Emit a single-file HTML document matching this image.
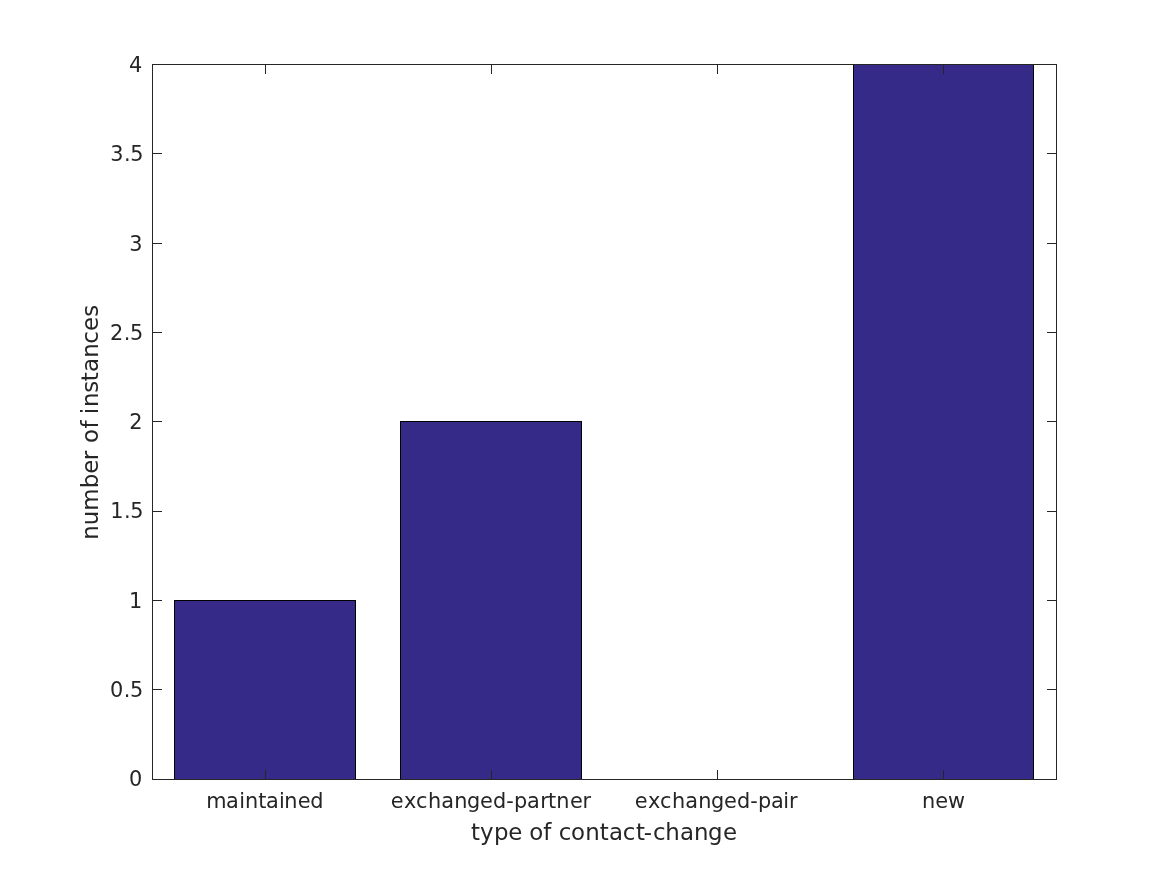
<!DOCTYPE html>
<html lang="en">
<head>
<meta charset="utf-8">
<title>contact-change bar chart</title>
<style>
html,body{margin:0;padding:0;background:#fff;}
body{width:1167px;height:875px;overflow:hidden;position:relative;}
svg{display:block;position:absolute;left:0;top:0;}
text{font-family:"DejaVu Sans","Liberation Sans",sans-serif;fill:#262626;}
.t{font-size:20.83px;}
.l{font-size:22.9px;}
</style>
</head>
<body>
<svg width="1167" height="875" viewBox="0 0 1167 875">
<rect x="0" y="0" width="1167" height="875" fill="#ffffff"/>
<g shape-rendering="crispEdges">
<rect x="174" y="600" width="182" height="180" fill="#000000"/>
<rect x="175" y="601" width="180" height="178" fill="#352a87"/>
<rect x="400" y="421" width="182" height="359" fill="#000000"/>
<rect x="401" y="422" width="180" height="357" fill="#352a87"/>
<rect x="853" y="64" width="181" height="716" fill="#000000"/>
<rect x="854" y="65" width="179" height="714" fill="#352a87"/>
<rect x="152" y="64" width="905" height="1" fill="#262626"/>
<rect x="152" y="779" width="905" height="1" fill="#262626"/>
<rect x="152" y="64" width="1" height="716" fill="#262626"/>
<rect x="1056" y="64" width="1" height="716" fill="#262626"/>
<rect x="265" y="770" width="1" height="9" fill="#262626"/>
<rect x="265" y="65" width="1" height="9" fill="#262626"/>
<rect x="491" y="770" width="1" height="9" fill="#262626"/>
<rect x="491" y="65" width="1" height="9" fill="#262626"/>
<rect x="717" y="770" width="1" height="9" fill="#262626"/>
<rect x="717" y="65" width="1" height="9" fill="#262626"/>
<rect x="943" y="770" width="1" height="9" fill="#262626"/>
<rect x="943" y="65" width="1" height="9" fill="#262626"/>
<rect x="153" y="779" width="9" height="1" fill="#262626"/>
<rect x="1047" y="779" width="9" height="1" fill="#262626"/>
<rect x="153" y="689" width="9" height="1" fill="#262626"/>
<rect x="1047" y="689" width="9" height="1" fill="#262626"/>
<rect x="153" y="600" width="9" height="1" fill="#262626"/>
<rect x="1047" y="600" width="9" height="1" fill="#262626"/>
<rect x="153" y="511" width="9" height="1" fill="#262626"/>
<rect x="1047" y="511" width="9" height="1" fill="#262626"/>
<rect x="153" y="421" width="9" height="1" fill="#262626"/>
<rect x="1047" y="421" width="9" height="1" fill="#262626"/>
<rect x="153" y="332" width="9" height="1" fill="#262626"/>
<rect x="1047" y="332" width="9" height="1" fill="#262626"/>
<rect x="153" y="243" width="9" height="1" fill="#262626"/>
<rect x="1047" y="243" width="9" height="1" fill="#262626"/>
<rect x="153" y="153" width="9" height="1" fill="#262626"/>
<rect x="1047" y="153" width="9" height="1" fill="#262626"/>
<rect x="153" y="64" width="9" height="1" fill="#262626"/>
<rect x="1047" y="64" width="9" height="1" fill="#262626"/>
</g>
<text class="t" x="129.05" y="72">4</text>
<text class="t" x="110.17 123.93 130.15" y="161">3.5</text>
<text class="t" x="129.30" y="251">3</text>
<text class="t" x="110.07 123.83 130.05" y="340">2.5</text>
<text class="t" x="129.15" y="429">2</text>
<text class="t" x="110.17 123.93 130.15" y="518">1.5</text>
<text class="t" x="129.10" y="608">1</text>
<text class="t" x="110.07 123.83 130.05" y="697">0.5</text>
<text class="t" x="129.00" y="786">0</text>
<text class="t" x="206.35 225.88 239.22 245.04 258.29 265.89 279.00 284.13 297.66 310.21" y="808">maintained</text>
<text class="t" x="390.68 403.93 416.00 428.10 441.16 454.17 466.94 479.95 493.03 506.16 514.02 527.05 540.37 547.99 556.16 569.98 582.39" y="808">exchanged-partner</text>
<text class="t" x="634.68 647.93 660.00 672.10 685.16 698.17 710.94 723.95 737.03 750.16 758.02 771.05 783.19 789.07" y="808">exchanged-pair</text>
<text class="t" x="921.97 935.16 947.97" y="808">new</text>
<text class="l" x="470.93 479.98 494.01 508.23 522.59 529.34 543.34 551.87 558.74 571.10 585.23 599.78 608.89 622.80 636.01 643.78 652.92 665.33 679.98 694.00 707.93 723.00" y="840">type of contact-change</text>
<text class="l" transform="translate(98,422.7) rotate(-90)" x="-117.00 -102.53 -88.14 -65.46 -51.11 -37.50 -28.01 -20.41 -5.89 1.26 8.51 15.69 30.02 41.38 50.66 64.88 79.05 91.71 105.97" y="0">number of instances</text>
</svg>
</body>
</html>
